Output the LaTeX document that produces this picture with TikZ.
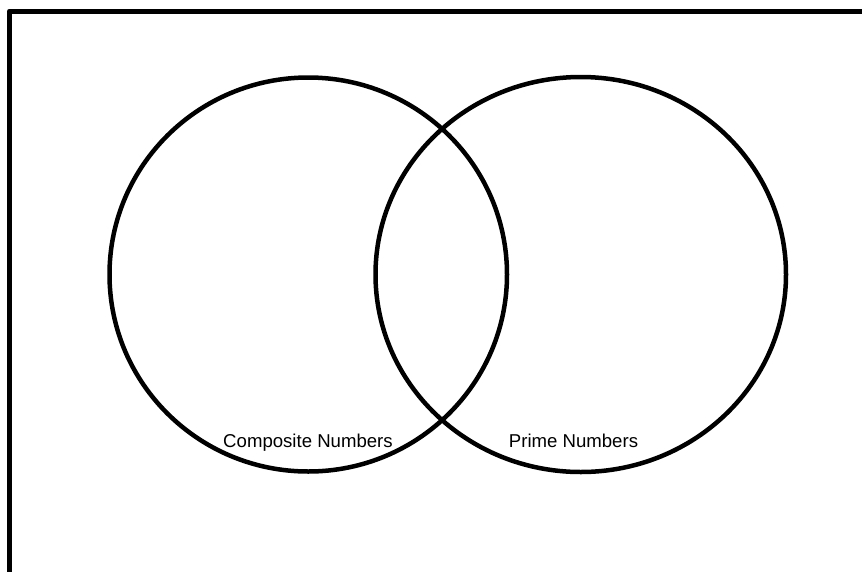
\documentclass[tikz,border=0pt]{standalone}
\usepackage{fontspec}
\setmainfont{Liberation Sans}
\usetikzlibrary{positioning}
\tikzset{
	frame/.style={line width=5pt, line join=round, draw=black},
	venn/.style={line width=4.5pt, draw=black},
	setlabel/.style={font=\fontsize{18.6}{22}\selectfont, inner sep=0pt, anchor=base},
}
\begin{document}
\begin{tikzpicture}[x=1pt, y=-1pt]
	\useasboundingbox (0,0) rectangle (862,571);
	\clip (0,0) rectangle (862,571);
	\draw[frame] (9.5,600) rectangle (890,11);
	\draw[venn] (308.25,274.5) ellipse [x radius=198.75, y radius=197];
	\draw[venn] (580.75,274.5) ellipse [x radius=205.25, y radius=197.5];
	\node[setlabel] (composite) at (308,447) {Composite Numbers};
	\node[setlabel] (prime) at (573.5,447) {Prime Numbers};
\end{tikzpicture}
\end{document}
